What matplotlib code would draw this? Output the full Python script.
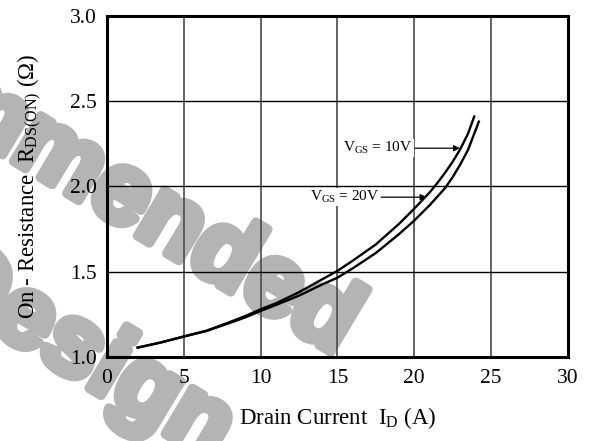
import matplotlib
matplotlib.use("Agg")
import matplotlib.pyplot as plt
import matplotlib.patheffects as pe

plt.rcParams['font.family'] = ['Liberation Serif', 'DejaVu Serif']
plt.rcParams['mathtext.default'] = 'regular'

# on-resistance vs drain current, two gate drives
id_10v = [2, 3.5, 5, 6.5, 8, 9, 10, 11, 12.5, 14, 15, 16, 17.5, 19, 20, 21, 21.5, 22, 22.5, 23, 23.5, 23.9]
rds_10v = [1.055, 1.085, 1.12, 1.155, 1.205, 1.24, 1.28, 1.315, 1.38, 1.455, 1.505, 1.565, 1.66, 1.78, 1.87, 1.965, 2.02, 2.08, 2.145, 2.22, 2.31, 2.41]

id_20v = [2, 3.5, 5, 6.5, 8, 9, 10, 11, 12.5, 14, 15, 16, 17.5, 19, 20, 21, 22, 22.5, 23, 23.5, 24.2]
rds_20v = [1.055, 1.085, 1.12, 1.153, 1.2, 1.232, 1.27, 1.305, 1.36, 1.425, 1.465, 1.52, 1.61, 1.72, 1.80, 1.89, 1.99, 2.055, 2.13, 2.215, 2.38]

x_ticks = [0, 5, 10, 15, 20, 25, 30]
y_ticks = [1.0, 1.5, 2.0, 2.5, 3.0]

fig = plt.figure(figsize=(5.91, 4.41), dpi=100)
ax = fig.add_axes([0.181, 0.1905, 0.780, 0.7735])
ax.set_facecolor('none')
ax.set_zorder(1)

# background watermark
wm_grey = '#b4b4b4'
wm = dict(color=wm_grey, fontsize=72, fontweight='bold', family='Liberation Sans',
          rotation=-31, rotation_mode='anchor', ha='right', va='baseline', zorder=0.5,
          path_effects=[pe.withStroke(linewidth=7, foreground=wm_grey)])
fig.text(336 / 591, 1 - 355 / 441, 'Recommended', **wm)
fig.text(212 / 591, 1 - 462 / 441, 'Design', **wm)

for x in x_ticks[1:-1]:
    ax.axvline(x, color='#4a4a4a', lw=1.2, zorder=1)
for y in y_ticks[1:-1]:
    ax.axhline(y, color='black', lw=1.0, zorder=1)

ax.plot(id_10v, rds_10v, color='black', lw=1.7, zorder=3)
ax.plot(id_20v, rds_20v, color='black', lw=1.7, zorder=3)

arrow = dict(arrowstyle='-|>', color='black', lw=0.9, mutation_scale=9,
             shrinkA=0, shrinkB=0)
ax.annotate('', xy=(22.97, 2.224), xytext=(20.05, 2.224), arrowprops=arrow, zorder=4)
ax.annotate('', xy=(20.8, 1.937), xytext=(17.85, 1.937), arrowprops=arrow, zorder=4)
box = dict(facecolor='white', edgecolor='none', pad=0.5)
ax.text(19.9, 2.224, r'V$_{GS}$ = 10V', ha='right', va='center', fontsize=11, bbox=box, zorder=4)
ax.text(17.75, 1.937, r'V$_{GS}$ = 20V', ha='right', va='center', fontsize=11, bbox=box, zorder=4)

ax.set_xlim(0, 30)
ax.set_ylim(1.0, 3.0)
ax.set_xticks(x_ticks)
ax.set_yticks(y_ticks)
ax.set_yticklabels(['%.1f' % v for v in y_ticks])
ax.tick_params(axis='x', length=0, pad=9, labelsize=15.5)
ax.tick_params(axis='y', length=0, pad=7, labelsize=15.5)
for s in ax.spines.values():
    s.set_linewidth(2.2)

ax.set_xlabel(r'Drain Current  I$_D$ (A)', fontsize=16.5, labelpad=12)
ax.set_ylabel(r'On - Resistance  R$_{DS(ON)}$ ($\Omega$)', fontsize=16.5, labelpad=19)

fig.savefig('out.png', dpi=100)
